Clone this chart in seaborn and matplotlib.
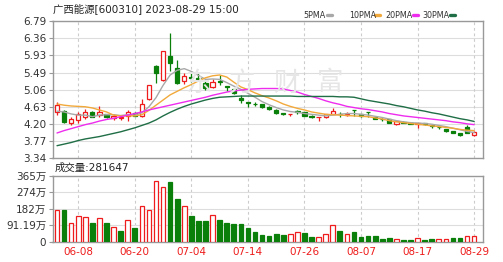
import numpy as np
import pandas as pd
import seaborn as sns
import matplotlib
matplotlib.use("Agg")
import matplotlib.pyplot as plt
from matplotlib.lines import Line2D

# ---------------- data ----------------
dates = ["06-05", "06-06", "06-07", "06-08", "06-09", "06-12", "06-13", "06-14", "06-15", "06-16",
         "06-19", "06-20", "06-21", "06-26", "06-27", "06-28", "06-29", "06-30", "07-03", "07-04",
         "07-05", "07-06", "07-07", "07-10", "07-11", "07-12", "07-13", "07-14", "07-17", "07-18",
         "07-19", "07-20", "07-21", "07-24", "07-25", "07-26", "07-27", "07-28", "07-31", "08-01",
         "08-02", "08-03", "08-04", "08-07", "08-08", "08-09", "08-10", "08-11", "08-14", "08-15",
         "08-16", "08-17", "08-18", "08-21", "08-22", "08-23", "08-24", "08-25", "08-28", "08-29"]
opens = [4.50, 4.53, 4.22, 4.30, 4.38, 4.49, 4.42, 4.44, 4.35, 4.34,
         4.40, 4.47, 4.40, 4.82, 5.65, 5.30, 5.90, 5.61, 5.28, 5.38,
         5.36, 5.24, 5.13, 5.29, 5.16, 5.07, 4.84, 4.75, 4.71, 4.70,
         4.63, 4.56, 4.47, 4.45, 4.52, 4.49, 4.41, 4.37, 4.36, 4.45,
         4.46, 4.43, 4.56, 4.44, 4.50, 4.36, 4.33, 4.31, 4.20, 4.25,
         4.22, 4.20, 4.21, 4.17, 4.13, 4.07, 4.02, 3.96, 4.11, 3.92]
highs = [4.75, 4.56, 4.36, 4.50, 4.57, 4.52, 4.64, 4.46, 4.46, 4.42,
         4.56, 4.49, 4.82, 5.17, 5.69, 6.04, 6.49, 5.82, 5.49, 5.48,
         5.47, 5.30, 5.33, 5.42, 5.16, 5.09, 4.92, 4.76, 4.74, 4.71,
         4.64, 4.57, 4.48, 4.46, 4.56, 4.50, 4.42, 4.38, 4.46, 4.59,
         4.50, 4.50, 4.56, 4.45, 4.50, 4.37, 4.34, 4.32, 4.28, 4.26,
         4.23, 4.23, 4.22, 4.17, 4.15, 4.08, 4.03, 3.97, 4.16, 4.02]
lows = [4.43, 4.23, 4.16, 4.22, 4.33, 4.36, 4.38, 4.34, 4.30, 4.30,
        4.28, 4.39, 4.36, 4.80, 5.23, 5.28, 5.53, 5.21, 5.20, 5.25,
        5.27, 5.06, 5.10, 5.17, 5.03, 4.95, 4.73, 4.63, 4.66, 4.60,
        4.56, 4.46, 4.42, 4.40, 4.44, 4.40, 4.34, 4.28, 4.34, 4.44,
        4.36, 4.40, 4.41, 4.37, 4.36, 4.31, 4.28, 4.22, 4.18, 4.21,
        4.19, 4.10, 4.17, 4.09, 4.07, 4.00, 3.96, 3.89, 3.96, 3.90]
closes = [4.67, 4.25, 4.32, 4.44, 4.50, 4.38, 4.50, 4.38, 4.40, 4.37,
          4.50, 4.41, 4.70, 5.17, 5.49, 6.04, 5.72, 5.23, 5.40, 5.35,
          5.33, 5.11, 5.26, 5.25, 5.14, 4.97, 4.81, 4.73, 4.69, 4.62,
          4.58, 4.47, 4.45, 4.46, 4.50, 4.41, 4.37, 4.38, 4.44, 4.53,
          4.44, 4.45, 4.54, 4.39, 4.49, 4.33, 4.31, 4.23, 4.26, 4.23,
          4.20, 4.22, 4.19, 4.15, 4.11, 4.01, 3.97, 3.91, 3.98, 3.99]
volumes = [174, 174, 103, 144, 139, 101, 133, 101, 79, 58,
           122, 77, 197, 174, 335, 306, 330, 234, 197, 144,
           112, 112, 150, 122, 103, 95, 95, 75, 51, 36,
           32, 43, 37, 39, 52, 45, 26, 26, 39, 94,
           56, 39, 51, 24, 32, 28, 13, 20, 16, 10,
           10, 22, 10, 13, 16, 16, 18, 22, 32, 28.16]
vol_up = [1, 0, 1, 1, 1, 0, 1, 0, 1, 0,
          1, 0, 1, 1, 1, 1, 0, 0, 1, 0,
          0, 0, 1, 0, 0, 0, 0, 0, 0, 0,
          0, 0, 0, 1, 1, 0, 0, 1, 1, 1,
          0, 1, 0, 0, 0, 0, 0, 0, 1, 0,
          0, 1, 0, 0, 1, 1, 0, 0, 1, 1]
ma5 = [4.52, 4.50, 4.45, 4.42, 4.42, 4.38, 4.42, 4.43, 4.43, 4.41,
       4.43, 4.42, 4.48, 4.63, 4.86, 5.17, 5.43, 5.55, 5.59, 5.52,
       5.42, 5.32, 5.33, 5.32, 5.24, 5.15, 5.07, 4.97, 4.87, 4.76,
       4.68, 4.61, 4.55, 4.51, 4.49, 4.46, 4.44, 4.42, 4.40, 4.42,
       4.44, 4.46, 4.46, 4.44, 4.42, 4.39, 4.36, 4.32, 4.28, 4.25,
       4.23, 4.22, 4.21, 4.19, 4.16, 4.13, 4.09, 4.05, 4.01, 3.98]
ma10 = [4.70, 4.67, 4.65, 4.64, 4.63, 4.60, 4.55, 4.50, 4.42, 4.40,
        4.40, 4.40, 4.43, 4.54, 4.67, 4.80, 4.93, 5.02, 5.11, 5.19,
        5.28, 5.36, 5.41, 5.43, 5.38, 5.25, 5.13, 5.06, 4.98, 4.91,
        4.85, 4.78, 4.70, 4.64, 4.59, 4.55, 4.50, 4.47, 4.44, 4.43,
        4.42, 4.41, 4.40, 4.39, 4.38, 4.35, 4.32, 4.28, 4.25, 4.23,
        4.21, 4.19, 4.17, 4.15, 4.13, 4.11, 4.09, 4.06, 4.04, 4.03]
ma20 = [3.97, 4.03, 4.08, 4.13, 4.18, 4.22, 4.27, 4.31, 4.34, 4.38,
        4.42, 4.46, 4.50, 4.55, 4.59, 4.63, 4.67, 4.71, 4.75, 4.79,
        4.83, 4.87, 4.92, 4.96, 5.00, 5.03, 5.05, 5.07, 5.08, 5.09,
        5.09, 5.09, 5.08, 5.04, 5.00, 4.94, 4.89, 4.84, 4.78, 4.73,
        4.69, 4.64, 4.61, 4.58, 4.56, 4.53, 4.50, 4.46, 4.43, 4.40,
        4.38, 4.36, 4.34, 4.32, 4.30, 4.28, 4.25, 4.23, 4.20, 4.18]
ma30 = [3.65, 3.69, 3.73, 3.78, 3.82, 3.85, 3.88, 3.92, 3.96, 4.00,
        4.05, 4.10, 4.16, 4.22, 4.30, 4.40, 4.49, 4.57, 4.64, 4.70,
        4.75, 4.80, 4.84, 4.87, 4.88, 4.89, 4.90, 4.90, 4.90, 4.90,
        4.90, 4.90, 4.90, 4.90, 4.89, 4.89, 4.89, 4.89, 4.89, 4.89,
        4.88, 4.88, 4.87, 4.83, 4.79, 4.76, 4.73, 4.70, 4.66, 4.63,
        4.59, 4.55, 4.52, 4.48, 4.45, 4.41, 4.37, 4.33, 4.30, 4.26]

price_ticks = [3.34, 3.77, 4.20, 4.63, 5.06, 5.49, 5.93, 6.36, 6.79]
price_tick_labels = ["3.34", "3.77", "4.20", "4.63", "5.06", "5.49", "5.93", "6.36", "6.79"]
vol_ticks = [0, 91.19, 182.38, 273.57, 364.76]
vol_tick_labels = ["0", "91.19万", "182万", "274万", "365万"]
date_ticks = ["06-08", "06-20", "07-04", "07-14", "07-26", "08-07", "08-17", "08-29"]
title_text = "广西能源[600310] 2023-08-29 15:00"
vol_text = "成交量:281647"
ma_names = ["5PMA", "10PMA", "20PMA", "30PMA"]
watermark = ["东", "方", "财", "富"]

# ---------------- style ----------------
sns.set_theme(style="white")
FONTS = ["DejaVu Sans", "Noto Sans CJK SC"]
plt.rcParams["font.family"] = FONTS

RED = "#ee1c1c"
GREEN = "#0a800a"
MA_COLORS = {"5PMA": "#a8a8a8", "10PMA": "#f2a93b", "20PMA": "#ee2cee", "30PMA": "#1f6e46"}
GRID = "#dddddd"
SPINE = "#999999"
TXT = "#333333"

W, H = 503, 262
fig = plt.figure(figsize=(W / 100, H / 100), dpi=100)


def frac(x0, y0, x1, y1):
    return [x0 / W, 1 - y1 / H, (x1 - x0) / W, (y1 - y0) / H]


axp = fig.add_axes(frac(52.5, 21, 483, 158))
axv = fig.add_axes(frac(52.5, 176, 483, 241.5))

n = len(dates)
idx = np.arange(n)
xlim = (-0.64, 60.25)

# ---------------- price panel ----------------
o = np.array(opens); c = np.array(closes); hi = np.array(highs); lo = np.array(lows)
up = c >= o
# wicks
axp.vlines(idx[up], lo[up], hi[up], color=RED, linewidth=0.9, zorder=3)
axp.vlines(idx[~up], lo[~up], hi[~up], color=GREEN, linewidth=0.9, zorder=3)
body_lo = np.minimum(o, c)
body_h = np.maximum(np.abs(c - o), 0.006)
axp.bar(idx[up], body_h[up], bottom=body_lo[up], width=0.6, facecolor="white",
        edgecolor=RED, linewidth=0.9, zorder=4)
axp.bar(idx[~up], body_h[~up], bottom=body_lo[~up], width=0.6, facecolor=GREEN,
        edgecolor=GREEN, linewidth=0.9, zorder=4)

ma_df = pd.DataFrame({
    "i": np.concatenate([idx] * 4),
    "value": ma5 + ma10 + ma20 + ma30,
    "ma": sum([[m] * n for m in ma_names], []),
})
sns.lineplot(data=ma_df, x="i", y="value", hue="ma", palette=MA_COLORS, ax=axp,
             legend=False, linewidth=1.0, zorder=5)

axp.set_xlim(*xlim)
axp.set_ylim(3.34, 6.79)
axp.set_yticks(price_ticks)
axp.set_yticklabels(price_tick_labels)
axp.set_xticks([])
axp.set_xlabel("")
axp.set_ylabel("")

for t in price_ticks:
    axp.axhline(t, color=GRID, linewidth=0.8, zorder=0)

tick_pos = [dates.index(d) for d in date_ticks]
for ax in (axp, axv):
    for p in tick_pos:
        ax.axvline(p, color="#cccccc", linewidth=0.8, linestyle=(0, (2.5, 2.5)), zorder=0)
    for s in ax.spines.values():
        s.set_color(SPINE)
        s.set_linewidth(1.0)
    ax.tick_params(axis="y", which="both", left=True, length=3, width=0.8, color=SPINE,
                   labelsize=7.5, labelcolor=TXT, pad=1.5)

# watermark
for k, ch in enumerate(watermark):
    fig.text((198 + 44 * k) / W, 1 - 83 / H, ch, fontsize=19, color="#e6e6e6",
             ha="center", va="center", family=["Noto Sans CJK SC"], zorder=0.5)

# ---------------- volume panel ----------------
v = np.array(volumes); vu = np.array(vol_up).astype(bool)
axv.bar(idx[vu], v[vu], width=0.66, facecolor="white", edgecolor=RED, linewidth=0.9, zorder=3)
axv.bar(idx[~vu], v[~vu], width=0.66, facecolor=GREEN, edgecolor=GREEN, linewidth=0.9, zorder=3)
axv.set_xlim(*xlim)
axv.set_ylim(0, 364.76)
axv.set_yticks(vol_ticks)
axv.set_yticklabels(vol_tick_labels)
for t in vol_ticks[1:-1]:
    axv.axhline(t, color=GRID, linewidth=0.8, zorder=0)
axv.set_xticks(tick_pos)
axv.set_xticklabels(date_ticks)
axv.tick_params(axis="x", length=0, labelsize=7.5, labelcolor=RED, pad=4)

# ---------------- texts ----------------
fig.text(53 / W, 1 - 9 / H, title_text, fontsize=7.5, color="#222222", ha="left", va="center")
fig.text(55 / W, 1 - 168 / H, vol_text, fontsize=7.5, color="#222222", ha="left", va="center")

leg_x = [303, 349, 385.5, 422]
dash_x = [327, 375, 413, 450]
for name, lx, dx in zip(ma_names, leg_x, dash_x):
    fig.text(lx / W, 1 - 15 / H, name, fontsize=5.8, color=TXT, ha="left", va="center")
    fig.add_artist(Line2D([dx / W, (dx + 5) / W], [1 - 15 / H, 1 - 15 / H],
                          color=MA_COLORS[name], linewidth=2.4, transform=fig.transFigure))

fig.savefig("out.png", dpi=100)
